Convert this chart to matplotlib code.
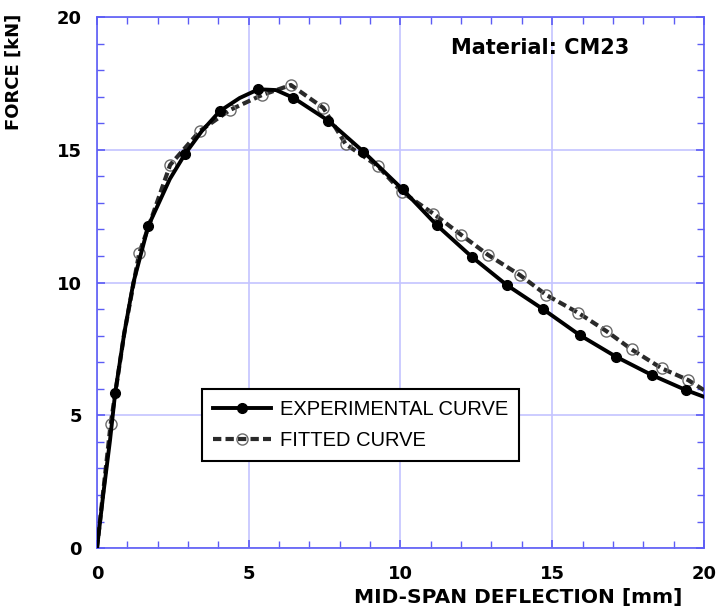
import matplotlib
matplotlib.use('agg')
import matplotlib.pyplot as plt
from matplotlib.ticker import MultipleLocator

plt.rcParams['font.family'] = ['Liberation Sans', 'DejaVu Sans']

# experimental curve; markers at exp_marks
exp_x = [0, 0.21, 0.43, 0.6, 0.9, 1.2, 1.69, 2.4, 2.90, 3.45, 4.05, 4.7, 5.32, 5.9,
         6.47, 7.62, 8.78, 10.07, 11.19, 12.35, 13.50, 14.71, 15.91, 17.10, 18.28,
         19.41, 20.0]
exp_y = [0, 2.06, 4.07, 5.85, 8.1, 10.0, 12.13, 13.9, 14.84, 15.7, 16.46, 16.95, 17.28, 17.25,
         16.96, 16.10, 14.93, 13.51, 12.17, 10.97, 9.91, 8.99, 8.02, 7.21, 6.52,
         5.95, 5.70]
exp_marks = [3, 6, 8, 10, 12, 14, 15, 16, 17, 18, 19, 20, 21, 22, 23, 24, 25]

# fitted curve
fit_x = [0, 0.45, 0.9, 1.39, 2.41, 3.39, 4.38, 5.43, 6.39, 7.46, 8.19, 9.25, 10.04,
         11.08, 12.01, 12.89, 13.94, 14.81, 15.86, 16.79, 17.62, 18.61, 19.48, 20.0]
fit_y = [0, 4.67, 8.1, 11.1, 14.43, 15.71, 16.50, 17.06, 17.44, 16.58, 15.22, 14.39, 13.42,
         12.6, 11.79, 11.04, 10.28, 9.53, 8.86, 8.17, 7.48, 6.77, 6.33, 5.95]
fit_marks = [1] + list(range(3, 23))

blue = '#5c5cf5'
grid_blue = '#c4c4ff'
bold_font = dict(family='DejaVu Sans', fontweight='bold')

fig = plt.figure(figsize=(7.19, 6.09), dpi=100)
ax = fig.add_axes([0.1349, 0.100, 0.8441, 0.872])

fit_line, = ax.plot(fit_x, fit_y, color='#2a2a2a', lw=3.0, dashes=(2.0, 1.0),
                    marker='o', markevery=fit_marks, markersize=8,
                    markerfacecolor='none', markeredgecolor='#6a6a6a', markeredgewidth=1.0,
                    label='FITTED CURVE', zorder=3)
exp_line, = ax.plot(exp_x, exp_y, color='black', lw=2.8,
                    marker='o', markevery=exp_marks, markersize=7,
                    label='EXPERIMENTAL CURVE', zorder=4)

ax.set_xlim(0, 20)
ax.set_ylim(0, 20)
ax.xaxis.set_major_locator(MultipleLocator(5))
ax.yaxis.set_major_locator(MultipleLocator(5))
ax.xaxis.set_minor_locator(MultipleLocator(1))
ax.yaxis.set_minor_locator(MultipleLocator(1))
ax.grid(True, which='major', color=grid_blue, lw=1.2, zorder=0)
ax.set_axisbelow(True)

for s in ax.spines.values():
    s.set_color(blue)
    s.set_linewidth(1.2)
ax.tick_params(which='both', direction='in', top=True, right=True, color=blue)
ax.tick_params(which='major', length=6, width=1.2)
ax.tick_params(which='minor', length=5, width=1.0)
ax.tick_params(axis='x', which='major', pad=12, labelsize=13)
ax.tick_params(axis='y', which='major', pad=11, labelsize=13)
for lab in ax.get_xticklabels() + ax.get_yticklabels():
    lab.set_family('DejaVu Sans')
    lab.set_fontweight('bold')

ax.set_xlabel('MID-SPAN DEFLECTION [mm]', fontsize=14.5, **bold_font)
ax.xaxis.set_label_coords(0.694, -0.075)
ax.set_ylabel('FORCE [kN]', fontsize=13, **bold_font)
ax.yaxis.set_label_coords(-0.122, 0.896)

ax.text(14.6, 18.83, 'Material: CM23', fontsize=15, ha='center', va='center', **bold_font)

leg = ax.legend(handles=[exp_line, fit_line], loc='lower left',
                bbox_to_anchor=(0.173, 0.164), borderaxespad=0, fontsize=14.5,
                handlelength=2.9, fancybox=False, framealpha=1,
                edgecolor='black', borderpad=0.55, labelspacing=0.6, handletextpad=0.4)
leg.get_frame().set_linewidth(1.5)

fig.savefig('out.png', dpi=100)
